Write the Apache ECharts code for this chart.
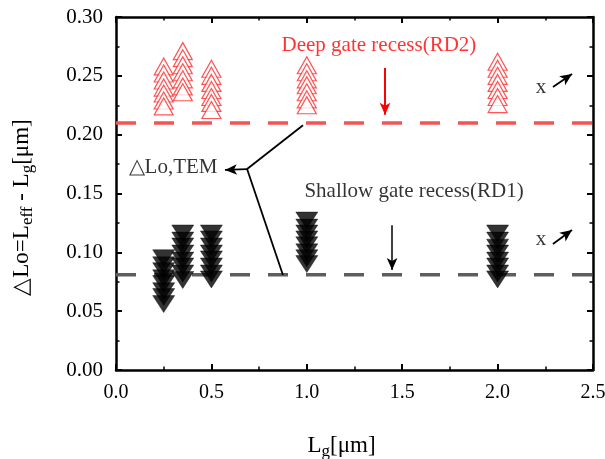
<!DOCTYPE html>
<html><head><meta charset="utf-8">
<script src="https://cdn.jsdelivr.net/npm/echarts@6/dist/echarts.min.js"></script>
<style>html,body{margin:0;padding:0;background:#fff}#c{width:605px;height:459px}</style>
</head><body><div id="c"></div>
<script>
// ---- data ----
const xTicks = [0, 0.5, 1.0, 1.5, 2.0, 2.5];
const yTicks = [0, 0.05, 0.10, 0.15, 0.20, 0.25, 0.30];
const rd2X = [0.25, 0.35, 0.5, 1.0, 2.0];
const rd2Y025 = [0.258, 0.252, 0.246, 0.240, 0.235, 0.229, 0.224];
const rd2Y035 = [0.271, 0.265, 0.259, 0.253, 0.247, 0.241, 0.236];
const rd2Y050 = [0.256, 0.250, 0.244, 0.238, 0.232, 0.227, 0.221];
const rd2Y100 = [0.259, 0.253, 0.247, 0.242, 0.236, 0.230, 0.225];
const rd2Y200 = [0.262, 0.256, 0.250, 0.244, 0.238, 0.232, 0.226];
const rd1X = [0.25, 0.35, 0.5, 1.0, 2.0];
const rd1Y025 = [0.095, 0.089, 0.084, 0.078, 0.073, 0.067, 0.062, 0.056];
const rd1Y035 = [0.116, 0.110, 0.105, 0.099, 0.093, 0.088, 0.082, 0.0765];
const rd1Y050 = [0.116, 0.111, 0.105, 0.099, 0.094, 0.088, 0.082, 0.077];
const rd1Y100 = [0.127, 0.121, 0.116, 0.111, 0.106, 0.100, 0.095, 0.090];
const rd1Y200 = [0.116, 0.110, 0.104, 0.099, 0.093, 0.088, 0.082, 0.077];
const rd2Level = 0.21;
const rd1Level = 0.081;
const levelX = [0, 2.5];
// annotation anchors (data space)
const arrowRD2 = [[1.41, 0.2567], [1.41, 0.217]];
const arrowRD1 = [[1.447, 0.123], [1.447, 0.085]];
const temTip = [0.571, 0.170];
const temVertex = [0.687, 0.1708];
const temUpper = [0.980, 0.208];
const temLower = [0.875, 0.0807];
const xArrow1 = [[2.290, 0.2405], [2.390, 0.2516]];
const xArrow2 = [[2.290, 0.107], [2.390, 0.119]];
const texts = [
  {name: 'Deep gate recess(RD2)', value: [1.378, 0.2762], color: '#ff0000'},
  {name: 'Shallow gate recess(RD1)', value: [1.562, 0.1513], color: '#000'},
  {name: '\u25B3Lo,TEM', value: [0.299, 0.1717], color: '#000'},
  {name: 'x', value: [2.228, 0.2397], color: '#000'},
  {name: 'x', value: [2.228, 0.1105], color: '#000'}
];

// ---- build ----
const FONT = 'Liberation Serif';
const rd2Sets = [rd2Y025, rd2Y035, rd2Y050, rd2Y100, rd2Y200];
const rd1Sets = [rd1Y025, rd1Y035, rd1Y050, rd1Y100, rd1Y200];
const rd2Data = [];
rd2Sets.forEach((arr, i) => arr.forEach(v => rd2Data.push([rd2X[i], v])));
const rd1Data = [];
rd1Sets.forEach((arr, i) => arr.forEach(v => rd1Data.push([rd1X[i], v])));

const chart = echarts.init(document.getElementById('c'), null, {renderer: 'canvas'});
const axisCommon = {
  axisLine: {show: true, onZero: false, lineStyle: {color: '#000', width: 2.5}},
  axisTick: {show: true, inside: true, length: 6, lineStyle: {color: '#000', width: 2}},
  minorTick: {show: true, splitNumber: 2, length: 3.5, lineStyle: {color: '#000', width: 1.5}},
  splitLine: {show: false}
};
const arrowLine = (a, b, color, w) => [{coord: a, lineStyle: {color: color, width: w, type: 'solid'}}, {coord: b}];
const nameRich = {m: {fontFamily: FONT, fontSize: 23, color: '#000'}, s: {fontFamily: FONT, fontSize: 17, color: '#000', padding: [12, 0, 0, 0]}};

chart.setOption({
  animation: false,
  grid: {left: 116, right: 12, top: 17, bottom: 89, containLabel: false, outerBoundsMode: 'none'},
  xAxis: [
    Object.assign({}, axisCommon, {
      type: 'value', min: 0, max: 2.5, interval: 0.5,
      name: '{m|L}{s|g}{m|[\u03BCm]}', nameLocation: 'middle', nameGap: 61,
      nameTextStyle: {padding: [0, 26, 0, 0], rich: nameRich},
      axisLabel: {fontFamily: FONT, fontSize: 20, color: '#000', margin: 13, formatter: v => v.toFixed(1)}
    }),
    Object.assign({}, axisCommon, {
      type: 'value', min: 0, max: 2.5, interval: 0.5, position: 'top',
      axisLabel: {show: false}
    })
  ],
  yAxis: [
    Object.assign({}, axisCommon, {
      type: 'value', min: 0, max: 0.3, interval: 0.05,
      name: '{m|\u25B3Lo=L}{s|eff}{m| - L}{s|g}{m|[\u03BCm]}', nameLocation: 'middle', nameGap: 80,
      nameTextStyle: {padding: [0, 28, 0, 0], rich: nameRich},
      axisLabel: {fontFamily: FONT, fontSize: 21, color: '#000', margin: 13, formatter: v => v.toFixed(2)}
    }),
    Object.assign({}, axisCommon, {
      type: 'value', min: 0, max: 0.3, interval: 0.05, position: 'right',
      axisLabel: {show: false}
    })
  ],
  series: [
    {
      type: 'line', data: levelX.map(x => [x, rd2Level]), symbol: 'none',
      lineStyle: {color: '#f25555', width: 3.5, type: [20, 18]}, z: 2
    },
    {
      type: 'line', data: levelX.map(x => [x, rd1Level]), symbol: 'none',
      lineStyle: {color: '#5e5e5e', width: 3.5, type: [20, 18]}, z: 2
    },
    {
      type: 'scatter', data: rd2Data, symbol: 'triangle', symbolSize: [19, 17],
      itemStyle: {color: '#fff', borderColor: '#ff2a2a', borderWidth: 1.2}, z: 3
    },
    {
      type: 'scatter', data: rd1Data, symbol: 'triangle', symbolRotate: 180, symbolSize: [22, 17],
      itemStyle: {color: '#000', borderColor: '#000', borderWidth: 0.5}, z: 3
    },
    {
      type: 'scatter', data: texts.map(t => ({name: t.name, value: t.value, label: {color: t.color}})),
      symbolSize: 0, z: 5,
      label: {show: true, position: 'inside', fontFamily: FONT, fontSize: 21, formatter: p => p.name}
    },
    {
      type: 'line', data: [], z: 4,
      markLine: {
        silent: true, animation: false, symbol: ['none', 'arrow'], symbolSize: [8, 12],
        label: {show: false},
        data: [
          arrowLine(arrowRD2[0], arrowRD2[1], '#ff0000', 2),
          arrowLine(arrowRD1[0], arrowRD1[1], '#000', 1.5),
          arrowLine(temVertex, temTip, '#000', 1.8),
          arrowLine(xArrow1[0], xArrow1[1], '#000', 1.8),
          arrowLine(xArrow2[0], xArrow2[1], '#000', 1.8)
        ]
      }
    },
    {
      type: 'line', data: [], z: 4,
      markLine: {
        silent: true, animation: false, symbol: ['none', 'none'],
        label: {show: false},
        data: [
          arrowLine(temVertex, temUpper, '#000', 1.8),
          arrowLine(temVertex, temLower, '#000', 1.8)
        ]
      }
    }
  ]
});
</script></body></html>
